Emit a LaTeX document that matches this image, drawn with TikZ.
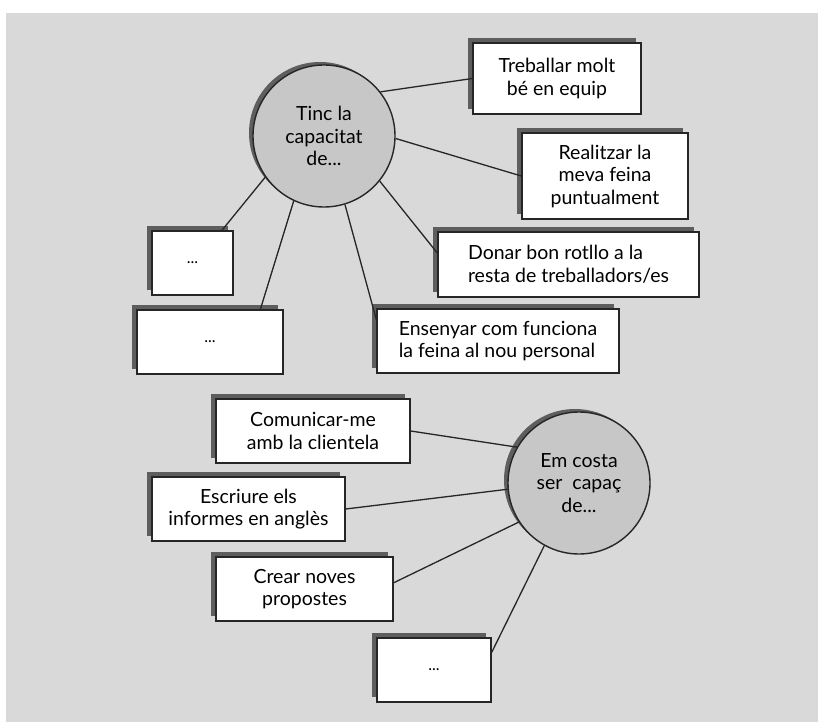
\documentclass[tikz,border=0pt]{standalone}
\usepackage{fontspec}
\setmainfont{Lato}
\usetikzlibrary{shadows}

\begin{document}
\begin{tikzpicture}[x=1pt,y=-1pt,
    felt/.style={draw=black!85,line width=1.4pt,fill=white,inner sep=0pt,align=center,
      drop shadow={shadow xshift=-5pt,shadow yshift=5pt,fill=black!63,opacity=1},
      font=\fontsize{19.5}{22.5}\selectfont},
    prik/.style={felt,font=\fontsize{16}{18}\selectfont},
    cirkel/.style={circle,draw=black!85,line width=1.4pt,fill=black!22,inner sep=0pt,
      minimum size=142pt,align=center,
      drop shadow={shadow xshift=-4pt,shadow yshift=3pt,fill=black!63,opacity=1},
      font=\fontsize{19.5}{22.5}\selectfont},
    streg/.style={black!85,line width=1.3pt}]
    \useasboundingbox (0,0) rectangle (818,722);
    \fill[black!15] (6,13) rectangle (818,722);
    % Tinc la capacitat de... med sine felter
    \node[cirkel] (tinc) at (324,136) {Tinc la\\capacitat\\de...};
    \node[felt,minimum width=168pt,minimum height=71pt] (treb) at (557,78.5) {Treballar molt\\bé en equip};
    \node[felt,minimum width=166pt,minimum height=86pt] (real) at (605,176) {Realitzar la\\meva feina\\puntualment};
    \node[felt,minimum width=261pt,minimum height=65pt,align=left] (donar) at (568.5,264.5) {Donar bon rotllo a la\\resta de treballadors/es};
    \node[felt,minimum width=242pt,minimum height=64pt,align=left] (ens) at (498,341) {Ensenyar com funciona\\la feina al nou personal};
    \node[prik,minimum width=81pt,minimum height=64pt] (prikA) at (192.5,263) {...};
    \node[prik,minimum width=146pt,minimum height=64pt] (prikB) at (210,342) {...};
    \draw[streg] (tinc.38) -- (treb.west);
    \draw[streg] (tinc.-2) -- (real.west);
    \draw[streg] (tinc.-39) -- (donar.175);
    \draw[streg] (tinc.-73) -- (ens.170);
    \draw[streg] (tinc.-115) -- (prikB.33);
    \draw[streg] (tinc.-145) -- (prikA.48);
    % Em costa ser capaç de... med sine felter
    \node[cirkel] (costa) at (579,483) {Em costa\\ser~ capaç\\de...};
    \node[felt,minimum width=194pt,minimum height=64pt] (komm) at (313,431) {Comunicar-me\\amb la clientela};
    \node[felt,minimum width=193pt,minimum height=64pt] (skriv) at (248.5,509) {Escriure els\\informes en anglès};
    \node[felt,minimum width=177pt,minimum height=64pt] (crear) at (304.5,589) {Crear noves\\propostes};
    \node[prik,minimum width=114pt,minimum height=64pt] (prikC) at (434,670) {...};
    \draw[streg] (costa.150) -- (komm.east);
    \draw[streg] (costa.185) -- (skriv.east);
    \draw[streg] (costa.213) -- (crear.4);
    \draw[streg] (costa.241) -- (prikC.17);
\end{tikzpicture}
\end{document}
